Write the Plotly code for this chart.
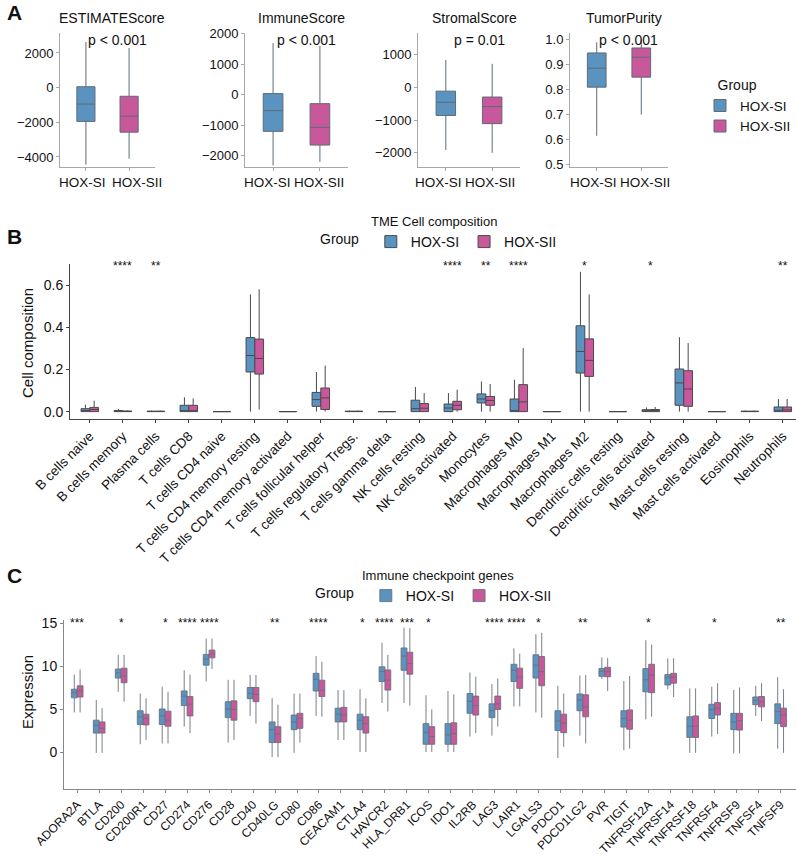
import plotly.graph_objects as go

# ---- panel A: ESTIMATE scores (box stats) ----
a_scores = ["ESTIMATEScore", "ImmuneScore", "StromalScore", "TumorPurity"]
a_pvals = ["p < 0.001", "p < 0.001", "p = 0.01", "p < 0.001"]
groups = ["HOX-SI", "HOX-SII"]

a_si_low = [-4450, -2320, -1910, 0.615]
a_si_q1 = [-1950, -1200, -860, 0.81]
a_si_med = [-950, -520, -460, 0.886]
a_si_q3 = [50, 40, -120, 0.947]
a_si_high = [2630, 1700, 830, 0.99]

a_sii_low = [-4100, -2200, -2000, 0.70]
a_sii_q1 = [-2570, -1650, -1110, 0.85]
a_sii_med = [-1650, -1070, -590, 0.93]
a_sii_q3 = [-500, -290, -300, 0.967]
a_sii_high = [2290, 1610, 710, 1.0]

a_ranges = [[-4580, 3150], [-2370, 2030], [-2430, 1650], [0.49, 1.027]]
a_ticks = [[-4000, -2000, 0, 2000], [-2000, -1000, 0, 1000, 2000],
           [-2000, -1000, 0, 1000], [0.5, 0.6, 0.7, 0.8, 0.9, 1.0]]

# ---- panel B: TME cell composition ----
cells = ["B cells naive", "B cells memory", "Plasma cells", "T cells CD8",
         "T cells CD4 naive", "T cells CD4 memory resting",
         "T cells CD4 memory activated", "T cells follicular helper",
         "T cells regulatory Tregs.", "T cells gamma delta", "NK cells resting",
         "NK cells activated", "Monocytes", "Macrophages M0", "Macrophages M1",
         "Macrophages M2", "Dendritic cells resting", "Dendritic cells activated",
         "Mast cells resting", "Mast cells activated", "Eosinophils", "Neutrophils"]
b_sig = ["", "****", "**", "", "", "", "", "", "", "", "", "****", "**", "****",
         "", "*", "", "*", "", "", "", "**"]

b_si_low = [0] * 22
b_si_q1 = [0, 0, 0, 0, 0, 0.188, 0, 0.025, 0, 0, 0, 0, 0.041, 0, 0, 0.183, 0, 0,
           0.03, 0, 0, 0]
b_si_med = [0.005, 0.002, 0.001, 0.004, 0, 0.266, 0, 0.057, 0.001, 0, 0.014,
            0.017, 0.06, 0.003, 0, 0.285, 0, 0.003, 0.136, 0, 0.001, 0.006]
b_si_q3 = [0.014, 0.005, 0.002, 0.03, 0, 0.351, 0, 0.091, 0.002, 0, 0.054, 0.036,
           0.084, 0.06, 0, 0.407, 0, 0.009, 0.202, 0, 0.002, 0.022]
b_si_high = [0.033, 0.012, 0.005, 0.068, 0, 0.556, 0, 0.188, 0.005, 0, 0.117,
             0.088, 0.143, 0.151, 0, 0.663, 0, 0.02, 0.353, 0, 0.005, 0.06]

b_sii_low = [0, 0, 0, 0, 0, 0.01, 0, 0, 0, 0, 0, 0, 0, 0, 0, 0, 0, 0, 0, 0, 0, 0]
b_sii_q1 = [0, 0, 0, 0, 0, 0.178, 0, 0.01, 0, 0, 0, 0.009, 0.03, 0, 0, 0.167, 0,
            0, 0.025, 0, 0, 0]
b_sii_med = [0.01, 0.001, 0.001, 0.004, 0, 0.252, 0, 0.065, 0.001, 0, 0.016,
             0.03, 0.053, 0.046, 0, 0.243, 0, 0.003, 0.107, 0, 0.001, 0.008]
b_sii_q3 = [0.02, 0.003, 0.002, 0.03, 0, 0.344, 0, 0.112, 0.002, 0, 0.038, 0.049,
            0.072, 0.128, 0, 0.345, 0, 0.01, 0.194, 0, 0.002, 0.022]
b_sii_high = [0.052, 0.006, 0.005, 0.063, 0, 0.58, 0, 0.218, 0.005, 0, 0.088,
              0.104, 0.131, 0.301, 0, 0.556, 0, 0.022, 0.325, 0, 0.005, 0.06]

# ---- panel C: immune checkpoint genes ----
genes = ["ADORA2A", "BTLA", "CD200", "CD200R1", "CD27", "CD274", "CD276", "CD28",
         "CD40", "CD40LG", "CD80", "CD86", "CEACAM1", "CTLA4", "HAVCR2",
         "HLA_DRB1", "ICOS", "IDO1", "IL2RB", "LAG3", "LAIR1", "LGALS3", "PDCD1",
         "PDCD1LG2", "PVR", "TIGIT", "TNFRSF12A", "TNFRSF14", "TNFRSF18",
         "TNFRSF4", "TNFRSF9", "TNFSF4", "TNFSF9"]
c_sig = ["***", "", "*", "", "*", "****", "****", "", "", "**", "", "****", "",
         "*", "****", "***", "*", "", "", "****", "****", "*", "", "**", "", "",
         "*", "", "", "*", "", "", "**"]

c_si_low = [4.6, -0.1, 7.0, 0.9, 1.0, 2.95, 8.2, 1.1, 4.2, -0.6, -0.1, 4.2, 1.4,
            0.0, 5.7, 5.7, 0.0, 0.0, 1.8, 1.9, 5.3, 4.6, -0.7, 1.9, 8.5, 0.2,
            3.8, 7.3, -0.1, 1.8, -0.15, 4.2, 0.4]
c_si_q1 = [6.3, 2.2, 8.6, 3.2, 3.2, 5.4, 10.1, 4.0, 6.2, 1.1, 2.6, 7.1, 3.5, 2.6,
           8.2, 9.5, 0.9, 0.9, 4.5, 4.0, 8.2, 8.6, 2.5, 4.8, 8.8, 2.9, 7.0, 7.8,
           1.7, 3.9, 2.6, 5.5, 3.3]
c_si_med = [6.9, 3.1, 9.2, 4.1, 4.2, 6.5, 10.8, 5.0, 6.8, 2.6, 3.5, 8.45, 4.4,
            3.7, 9.35, 11.15, 2.3, 2.0, 5.9, 4.8, 9.5, 10.1, 3.6, 6.05, 9.4, 3.9,
            8.4, 8.7, 3.0, 4.9, 3.5, 6.0, 4.7]
c_si_q3 = [7.3, 3.7, 9.65, 4.8, 5.0, 7.1, 11.35, 5.85, 7.5, 3.5, 4.3, 9.15, 5.1,
           4.4, 9.9, 12.1, 3.3, 3.3, 6.8, 5.6, 10.2, 11.3, 4.8, 6.75, 9.7, 4.8,
           9.7, 9.0, 4.1, 5.55, 4.5, 6.4, 5.6]
c_si_high = [9.0, 6.05, 11.3, 6.8, 7.6, 9.5, 13.2, 8.4, 8.95, 6.25, 6.8, 11.15,
             7.2, 7.3, 12.7, 14.45, 6.6, 7.1, 9.25, 7.9, 12.05, 13.7, 7.7, 8.9,
             11.0, 8.25, 13.0, 10.9, 7.4, 7.6, 7.2, 7.7, 8.7]

c_sii_low = [4.6, -0.1, 5.85, 1.4, 1.0, 2.2, 9.65, 1.4, 3.3, -0.6, 1.1, 4.1, 1.4,
             0.0, 4.7, 5.4, 0.0, 0.0, 2.2, 2.95, 5.3, 4.0, 0.6, 1.0, 7.1, 0.4,
             4.1, 6.4, -0.1, 2.1, -0.15, 3.6, -0.1]
c_sii_q1 = [6.4, 2.2, 8.05, 3.15, 3.0, 4.2, 10.95, 3.7, 5.85, 1.1, 2.75, 6.45,
            3.5, 2.2, 7.2, 9.05, 0.9, 0.9, 4.3, 4.95, 7.4, 7.7, 2.25, 4.1, 8.75,
            2.65, 6.9, 8.0, 1.7, 4.3, 2.55, 5.25, 2.95]
c_sii_med = [7.1, 2.75, 8.85, 3.9, 3.7, 5.55, 11.4, 4.95, 6.7, 2.1, 3.9, 7.2,
             4.3, 3.3, 8.35, 10.3, 1.8, 2.15, 5.4, 5.6, 8.7, 9.35, 3.35, 5.25,
             9.35, 3.7, 8.95, 8.7, 3.0, 5.1, 3.65, 5.85, 4.3]
c_sii_q3 = [7.7, 3.5, 9.75, 4.4, 4.75, 6.45, 11.85, 5.95, 7.5, 2.95, 4.5, 8.35,
            5.2, 4.1, 9.55, 11.6, 2.95, 3.4, 6.5, 6.5, 9.75, 11.1, 4.4, 6.65,
            9.85, 4.9, 10.2, 9.15, 4.2, 5.75, 4.5, 6.45, 5.1]
c_sii_high = [9.6, 5.1, 11.3, 6.25, 7.0, 9.0, 13.2, 8.4, 8.95, 5.5, 6.8, 10.5,
              7.2, 6.25, 11.3, 14.4, 4.95, 6.7, 8.75, 8.55, 11.45, 13.85, 6.8,
              8.95, 10.95, 8.85, 12.5, 10.9, 7.4, 8.0, 7.5, 8.0, 7.3]

FONT = "Liberation Sans, Arial, sans-serif"
BLUE = "#5b93c0"
PINK = "#c8579b"
W, H = 796, 855


def fx(p):
    return p / W


def fy(p):
    return 1 - p / H


def note(text, x, y, xref="paper", size=13, **kw):
    return dict(x=x, y=y, xref=xref, yref="paper", text=text, showarrow=False,
                xanchor="center", yanchor="middle",
                font=dict(size=size, color="#111"), **kw)


fig = go.Figure()
layout = {}
annotations = []

# panel A
a_xdom = [(60, 155), (245, 348), (418, 520), (570, 668)]
# group labels under each A panel sit a little wider apart than the boxes
a_lab_x = [(82, 137), (267, 319), (438, 490), (593, 645)]
for i in range(4):
    xa = "x" if i == 0 else "x%d" % (i + 1)
    ya = "y" if i == 0 else "y%d" % (i + 1)
    stats = [(groups[0], BLUE, a_si_low, a_si_q1, a_si_med, a_si_q3, a_si_high),
             (groups[1], PINK, a_sii_low, a_sii_q1, a_sii_med, a_sii_q3, a_sii_high)]
    for name, col, lo, q1, md, q3, hi in stats:
        fig.add_trace(go.Box(
            x=[name], q1=[q1[i]], median=[md[i]], q3=[q3[i]],
            lowerfence=[lo[i]], upperfence=[hi[i]], name=name,
            fillcolor=col, line=dict(color="#5f6b75", width=1), whiskerwidth=0,
            width=0.42, offsetgroup="a", boxpoints=False,
            xaxis=xa, yaxis=ya, legend="legend", showlegend=(i == 0)))
    x0, x1 = a_xdom[i]
    layout["xaxis" if i == 0 else "xaxis%d" % (i + 1)] = dict(
        domain=[fx(x0), fx(x1)], anchor=ya, type="category",
        categoryorder="array", categoryarray=groups, range=[-0.6, 1.6],
        showticklabels=False, showline=True, linecolor="#a8a8a8", linewidth=1,
        ticks="outside", ticklen=3, tickcolor="#a8a8a8",
        showgrid=False, zeroline=False)
    layout["yaxis" if i == 0 else "yaxis%d" % (i + 1)] = dict(
        domain=[fy(167), fy(33)], anchor=xa, range=a_ranges[i],
        tickvals=a_ticks[i], exponentformat="none",
        tickformat=".1f" if i == 3 else "d",
        showline=True, linecolor="#a8a8a8", linewidth=1, ticks="outside",
        ticklen=3, tickcolor="#a8a8a8", tickfont=dict(size=13, color="#111"),
        showgrid=False, zeroline=False)
    annotations.append(note(a_scores[i], (fx(x0) + fx(x1)) / 2 + fx(5), fy(18),
                            size=14))
    annotations.append(note(a_pvals[i], 0.72, fy(40), xref=xa, size=14))
    for g, lx in zip(groups, a_lab_x[i]):
        annotations.append(note(g, fx(lx), fy(182), size=13.5))

# panel B and C


def add_pair(cats, si, sii, xa, ya, leg, lw, lcol):
    for name, col, st in [(groups[0], BLUE, si), (groups[1], PINK, sii)]:
        lo, q1, md, q3, hi = st
        fig.add_trace(go.Box(
            x=cats, q1=q1, median=md, q3=q3, lowerfence=lo, upperfence=hi,
            name=name, fillcolor=col, line=dict(color=lcol, width=lw),
            whiskerwidth=0, boxpoints=False, offsetgroup=name,
            xaxis=xa, yaxis=ya, legend=leg))


add_pair(cells, (b_si_low, b_si_q1, b_si_med, b_si_q3, b_si_high),
         (b_sii_low, b_sii_q1, b_sii_med, b_sii_q3, b_sii_high),
         "x5", "y5", "legend2", 1, "#4a4a4a")
add_pair(genes, (c_si_low, c_si_q1, c_si_med, c_si_q3, c_si_high),
         (c_sii_low, c_sii_q1, c_sii_med, c_sii_q3, c_sii_high),
         "x6", "y6", "legend3", 0.9, "#6a7178")

layout["xaxis5"] = dict(domain=[fx(70), 1], anchor="y5", type="category",
                        categoryorder="array", categoryarray=cells,
                        range=[-0.6, 21.4], tickangle=-45,
                        showline=True, linecolor="#444", linewidth=1,
                        ticks="outside", ticklen=3, tickcolor="#444",
                        tickfont=dict(size=13.5, color="#111"), showgrid=False)
layout["yaxis5"] = dict(domain=[fy(419), fy(264)], anchor="x5",
                        range=[-0.035, 0.70], tickvals=[0, 0.2, 0.4, 0.6],
                        tickformat=".1f", showline=True, linecolor="#444",
                        linewidth=1, ticks="outside", ticklen=3,
                        tickcolor="#444", tickfont=dict(size=14, color="#111"),
                        showgrid=False, zeroline=False)
layout["xaxis6"] = dict(domain=[fx(64), 1], anchor="y6", type="category",
                        categoryorder="array", categoryarray=genes,
                        range=[-0.6, 32.7], tickangle=-45,
                        showline=True, linecolor="#888", linewidth=1,
                        ticks="outside", ticklen=3, tickcolor="#888",
                        tickfont=dict(size=12, color="#111"), showgrid=False)
layout["yaxis6"] = dict(domain=[fy(789), fy(620)], anchor="x6",
                        range=[-4.3, 15.35], tickvals=[0, 5, 10, 15],
                        showline=True, linecolor="#888", linewidth=1,
                        ticks="outside", ticklen=3, tickcolor="#888",
                        tickfont=dict(size=14, color="#111"),
                        showgrid=False, zeroline=False)

for c, s in zip(cells, b_sig):
    if s:
        annotations.append(note(s, c, fy(266), xref="x5", size=12))
for g, s in zip(genes, c_sig):
    if s:
        annotations.append(note(s, g, fy(623), xref="x6", size=12))

# titles, panel letters, y axis titles
for txt, y in [("A", 12), ("B", 237), ("C", 575)]:
    annotations.append(note("<b>%s</b>" % txt, fx(15), fy(y), size=21))
annotations.append(note("TME Cell composition", fx(434), fy(222)))
annotations.append(note("Immune checkpoint genes", fx(438), fy(575)))
annotations.append(note("Cell composition", fx(27), fy(343), size=15,
                        textangle=-90))
annotations.append(note("Expression", fx(27), fy(692), size=15, textangle=-90))

fig.update_layout(
    **layout,
    width=W, height=H, template="none",
    margin=dict(l=0, r=0, t=0, b=0),
    paper_bgcolor="white", plot_bgcolor="white",
    font=dict(family=FONT, color="#111"),
    boxmode="group", boxgap=0.47, boxgroupgap=0,
    annotations=annotations,
    legend=dict(title=dict(text="    Group", font=dict(size=14)),
                x=fx(700), y=fy(72), xanchor="left", yanchor="top",
                font=dict(size=13.5), tracegroupgap=0, itemwidth=30,
                bgcolor="rgba(0,0,0,0)"),
    legend2=dict(title=dict(text="Group ", side="left", font=dict(size=14)),
                 orientation="h", x=fx(440), y=fy(242), xanchor="center",
                 yanchor="middle", font=dict(size=14), itemwidth=30,
                 bgcolor="rgba(0,0,0,0)"),
    legend3=dict(title=dict(text="Group ", side="left", font=dict(size=14)),
                 orientation="h", x=fx(435), y=fy(596), xanchor="center",
                 yanchor="middle", font=dict(size=14), itemwidth=30,
                 bgcolor="rgba(0,0,0,0)"),
)

# the page body has a default 8px margin; drop it so the figure fills the window
fig.write_html("out.html", config={"displayModeBar": False},
               post_script="document.body.style.margin='0';")
